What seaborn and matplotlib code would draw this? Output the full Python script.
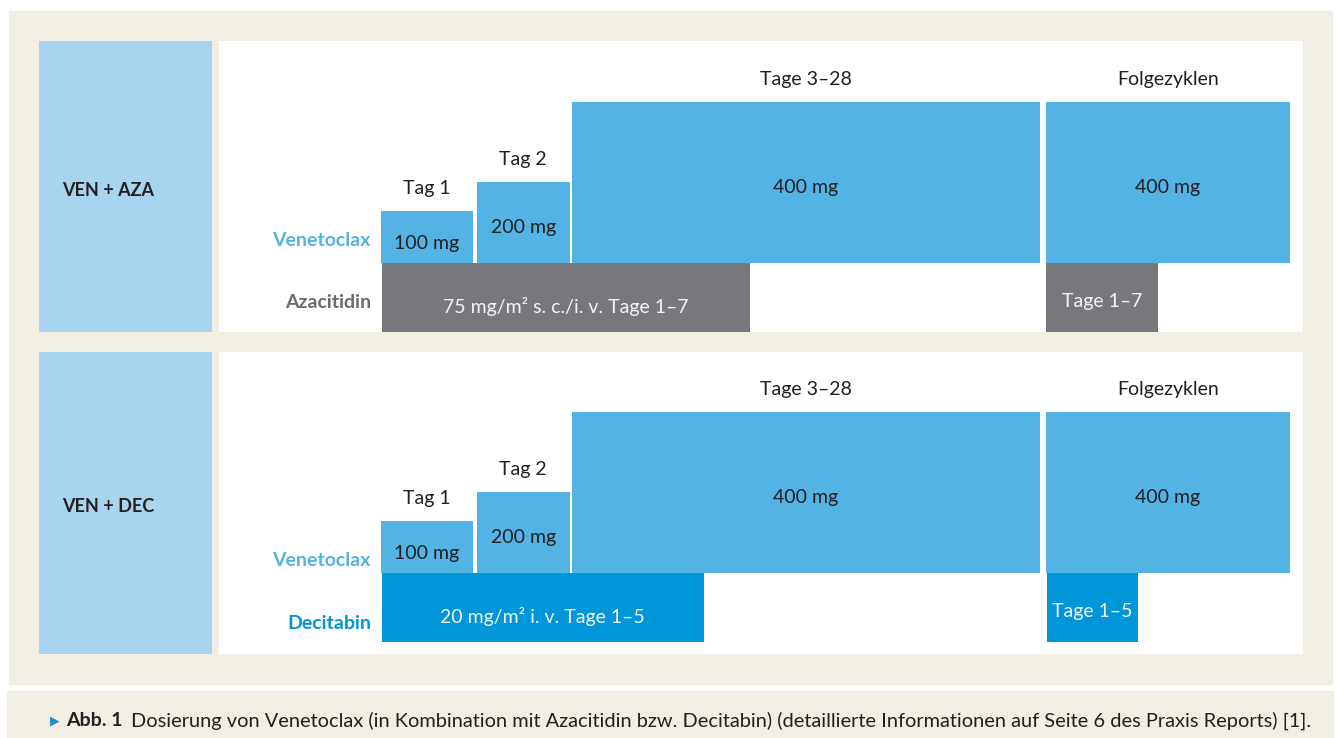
import matplotlib
matplotlib.use("Agg")
import matplotlib.pyplot as plt
from matplotlib.patches import Rectangle
import seaborn as sns

# schedule columns for venetoclax (x in schematic day units)
columns = ["Tag 1", "Tag 2", "Tage 3–28", "Folgezyklen"]
col_left = [0.0, 1.03, 2.05, 7.15]
col_width = [0.99, 1.0, 5.04, 2.62]
ven_level = [1.0, 1.56, 3.1, 3.1]          # schematic bar heights
ven_dose = ["100 mg", "200 mg", "400 mg", "400 mg"]

# combination partner rows
regimens = ["VEN + AZA", "VEN + DEC"]
partners = ["Azacitidin", "Decitabin"]
partner_left = [[0.01, 7.15], [0.01, 7.16]]
partner_width = [[3.96, 1.2], [3.46, 0.98]]
partner_text = [["75 mg/m² s. c./i. v. Tage 1–7", "Tage 1–7"],
                ["20 mg/m² i. v. Tage 1–5", "Tage 1–5"]]
row_height = 1.33

caption_head = "Abb. 1"
caption_body = ("Dosierung von Venetoclax (in Kombination mit Azacitidin bzw. Decitabin) "
                "(detaillierte Informationen auf Seite 6 des Praxis Reports) [1].")

# colours
BEIGE = "#f1efe3"
LABEL_BOX = "#a9d4ef"
VEN_BLUE = "#53b3e5"
PARTNER_COL = ["#77787b", "#0096d9"]
PARTNER_LBL = ["#6b6c6f", "#0096d9"]
DARK = "#231f20"

sns.set_theme(style="white")
plt.rcParams["font.family"] = ["Lato", "DejaVu Sans"]

W, H = 1336, 738
fig = plt.figure(figsize=(W / 100, H / 100), dpi=100, facecolor="white")


def box(x0, y0, x1, y1):
    return [x0 / W, 1 - y1 / H, (x1 - x0) / W, (y1 - y0) / H]


# background frames
fig.patches.append(Rectangle((9 / W, 1 - 684 / H), (1332 - 9) / W, (684 - 11) / H,
                             transform=fig.transFigure, color=BEIGE, zorder=-5))
fig.patches.append(Rectangle((7 / W, 0), (1333 - 7) / W, (738 - 691) / H,
                             transform=fig.transFigure, color=BEIGE, zorder=-5))

panel_boxes = [(41, 332), (352, 654)]
ylims = [(0, 5.596), (-0.231, 5.577)]
ven_lbl_y = [1.76, 1.57]
partner_lbl_y = [0.56, 0.35]
regimen_y = [190, 506]

for i in range(2):
    top, bottom = panel_boxes[i]

    lab = fig.add_axes(box(39, top, 212, bottom))
    lab.set_facecolor(LABEL_BOX)
    lab.set_xticks([]); lab.set_yticks([])
    sns.despine(ax=lab, left=True, bottom=True)
    fig.text(62 / W, 1 - regimen_y[i] / H, regimens[i], fontsize=13, fontweight="bold",
             color=DARK, ha="left", va="center")

    ax = fig.add_axes(box(219, top, 1303, bottom))
    ax.set_facecolor("white")
    ax.set_xlim(-1.742, 9.914)
    ax.set_ylim(*ylims[i])
    ax.set_xticks([]); ax.set_yticks([])
    sns.despine(ax=ax, left=True, bottom=True)

    # venetoclax ramp-up
    ax.bar(col_left, ven_level, width=col_width, bottom=row_height, align="edge",
           color=VEN_BLUE, linewidth=0)
    for xl, w, h, c, d in zip(col_left, col_width, ven_level, columns, ven_dose):
        xc = xl + w / 2
        ax.annotate(c, (xc, row_height + h), xytext=(0, 16), textcoords="offset points",
                    ha="center", va="center", fontsize=14, color=DARK)
        off = -5 if h < 1.2 else -3.5
        ax.annotate(d, (xc, row_height + h / 2), xytext=(0, off), textcoords="offset points",
                    ha="center", va="center", fontsize=14, color=DARK)

    # partner drug
    ax.bar(partner_left[i], [row_height] * 2, width=partner_width[i], bottom=0,
           align="edge", color=PARTNER_COL[i], linewidth=0)
    for j, (xl, w, t) in enumerate(zip(partner_left[i], partner_width[i], partner_text[i])):
        ax.text(xl + w / 2, 0.49 if j == 0 else 0.59, t, ha="center", va="center",
                fontsize=14, color="#f4f4f4")

    ax.text(-0.108, ven_lbl_y[i], "Venetoclax", ha="right", va="center", fontsize=14,
            fontweight="bold", color=VEN_BLUE)
    ax.text(-0.108, partner_lbl_y[i], partners[i], ha="right", va="center", fontsize=14,
            fontweight="bold", color=PARTNER_LBL[i])

# caption
cy = 1 - 721 / H
fig.text(50 / W, cy, "▶", fontsize=9, color="#2a8bc0", ha="left", va="center",
         family=["DejaVu Sans"])
fig.text(66 / W, cy, caption_head, fontsize=14, fontweight="bold", color=DARK,
         ha="left", va="center")
fig.text(131 / W, cy, caption_body, fontsize=14.4, color=DARK, ha="left", va="center")

fig.savefig("out.png", dpi=100, facecolor="white")
